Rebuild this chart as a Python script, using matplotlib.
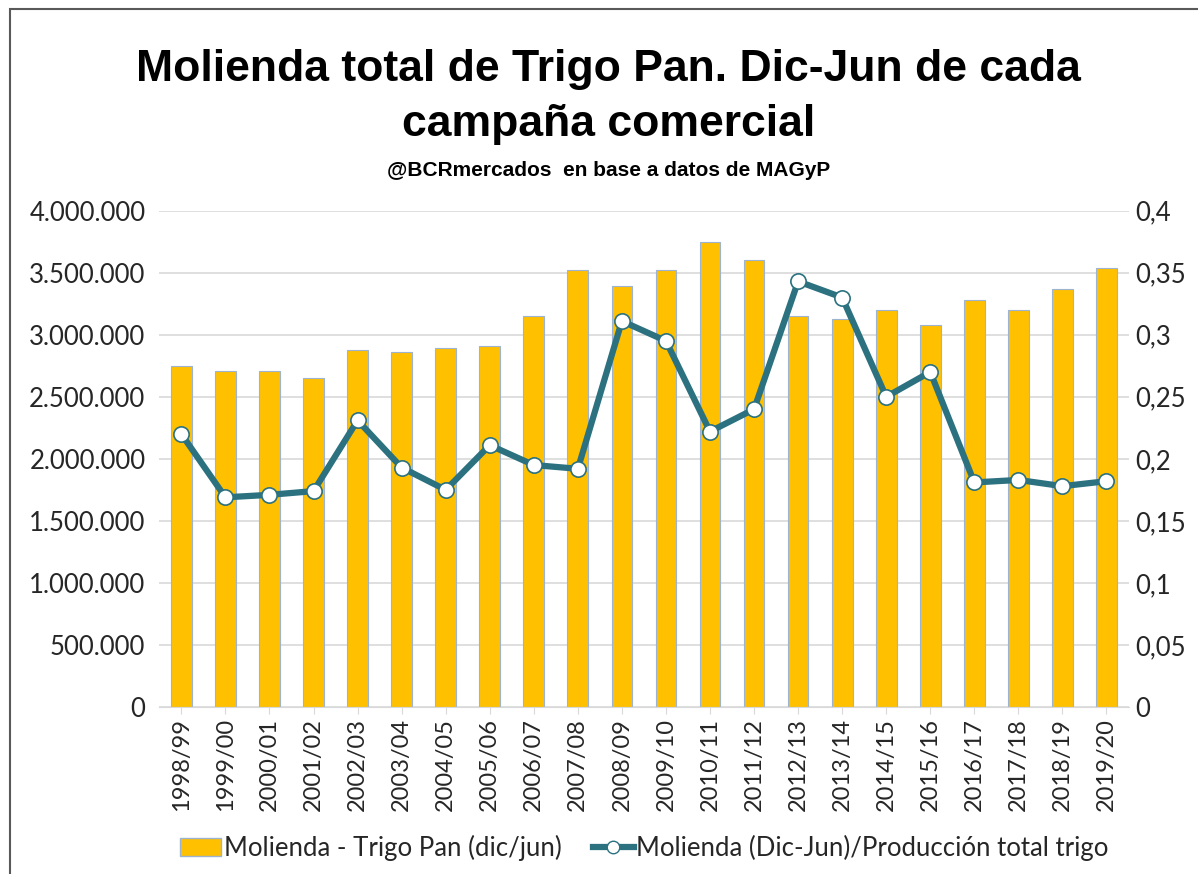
import numpy as np
import matplotlib
matplotlib.use("Agg")
import matplotlib.pyplot as plt
from matplotlib.patches import Rectangle
from matplotlib.lines import Line2D
from matplotlib.ticker import FuncFormatter

campanias = ["1998/99", "1999/00", "2000/01", "2001/02", "2002/03", "2003/04",
             "2004/05", "2005/06", "2006/07", "2007/08", "2008/09", "2009/10",
             "2010/11", "2011/12", "2012/13", "2013/14", "2014/15", "2015/16",
             "2016/17", "2017/18", "2018/19", "2019/20"]
molienda = [2750000, 2710000, 2710000, 2650000, 2880000, 2860000,
            2890000, 2910000, 3150000, 3520000, 3390000, 3520000,
            3750000, 3600000, 3150000, 3130000, 3200000, 3080000,
            3280000, 3200000, 3370000, 3540000]
ratio = [0.220, 0.169, 0.171, 0.174, 0.231, 0.193,
         0.175, 0.211, 0.195, 0.192, 0.311, 0.295,
         0.222, 0.240, 0.343, 0.330, 0.250, 0.270,
         0.181, 0.183, 0.178, 0.182]

bar_col = "#FFC000"
line_col = "#2B717F"
font = "Lato"
tfont = "Liberation Sans"

fig = plt.figure(figsize=(11.98, 8.74), dpi=100)
ax = fig.add_axes([0.133, 0.191, 0.809, 0.568])
x = np.arange(len(campanias))

ax.bar(x, molienda, width=0.47, color=bar_col, edgecolor="#9DB3CF", linewidth=0.8, zorder=2)
ax.set_ylim(0, 4000000)
ax.set_xlim(-0.5, len(campanias) - 0.5)
ax.set_yticks(np.arange(0, 4000001, 500000))
ax.yaxis.set_major_formatter(FuncFormatter(lambda v, p: f"{int(v):,}".replace(",", ".")))
ax.grid(axis="y", color="#D9D9D9", linewidth=1.2, zorder=0)
ax.set_axisbelow(True)
ax.set_xticks(x)
ax.set_xticklabels(campanias, rotation=90, fontsize=17, family=font, color="#262626")
for s in ax.spines.values():
    s.set_visible(False)
ax.spines["bottom"].set_visible(True)
ax.spines["bottom"].set_color("#D9D9D9")
ax.tick_params(axis="y", length=0, labelsize=18.5, labelcolor="#262626", pad=10)
ax.tick_params(axis="x", length=5, color="#D9D9D9", pad=3)
for lab in ax.get_yticklabels():
    lab.set_family(font)

ax2 = ax.twinx()
ax2.plot(x, ratio, color=line_col, linewidth=4.5, marker="o", markersize=11,
         markerfacecolor="white", markeredgecolor=line_col, markeredgewidth=1.2, zorder=3)
ax2.set_ylim(0, 0.4)
ax2.set_yticks(np.arange(0, 0.41, 0.05))
ax2.yaxis.set_major_formatter(FuncFormatter(lambda v, p: "0" if v == 0 else f"{v:.2f}".rstrip("0").replace(".", ",")))
for s in ax2.spines.values():
    s.set_visible(False)
ax2.tick_params(axis="y", length=0, labelsize=18.5, labelcolor="#262626", pad=5)
for lab in ax2.get_yticklabels():
    lab.set_family(font)
    lab.set_horizontalalignment("left")

# titulo
fig.text(0.508, 0.921, "Molienda total de Trigo Pan. Dic-Jun de cada", ha="center", va="center",
         fontsize=32, fontweight="bold", family=tfont, color="black")
fig.text(0.508, 0.858, "campaña comercial", ha="center", va="center",
         fontsize=32, fontweight="bold", family=tfont, color="black")
fig.text(0.508, 0.805, "@BCRmercados  en base a datos de MAGyP", ha="center", va="center",
         fontsize=15, fontweight="bold", family=tfont, color="black")

# leyenda
h1 = Rectangle((0, 0), 1, 1, facecolor=bar_col, edgecolor="#9DB3CF")
h2 = Line2D([], [], color=line_col, linewidth=4.5, marker="o", markersize=9,
            markerfacecolor="white", markeredgecolor=line_col)
fig.legend([h1, h2], ["Molienda - Trigo Pan (dic/jun)", "Molienda (Dic-Jun)/Producción total trigo"],
           loc="center", bbox_to_anchor=(0.538, 0.030), ncol=2, frameon=False,
           prop={"family": font, "size": 18.5}, handlelength=1.6, handletextpad=0.1,
           columnspacing=1.2, labelcolor="#262626")

fig.patches.append(Rectangle((0.008, -0.01), 1.1, 1.0, transform=fig.transFigure,
                             fill=False, edgecolor="#595959", linewidth=1.5))

fig.savefig("out.png", dpi=100)
